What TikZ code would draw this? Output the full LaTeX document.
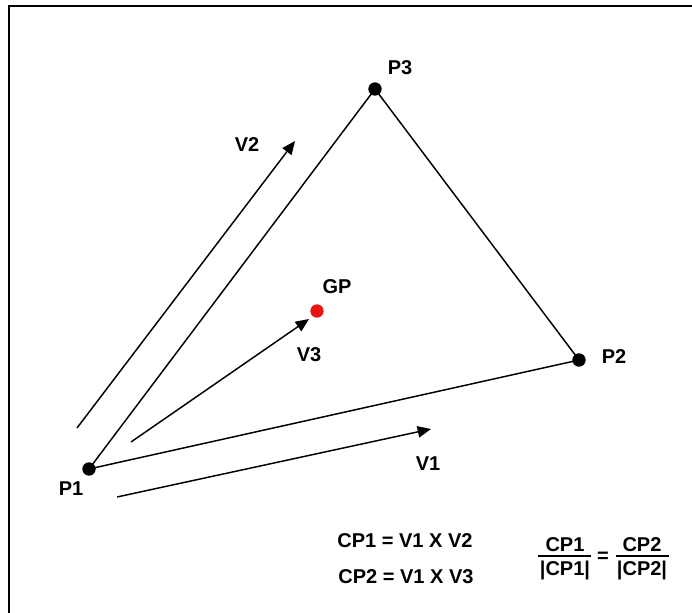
\documentclass[tikz,border=0pt]{standalone}
\usepackage{fontspec}
\setmainfont{Liberation Sans}
\usepackage{tikz}
\usetikzlibrary{arrows.meta, positioning}
\definecolor{gpred}{RGB}{235,20,20}

\begin{document}
\begin{tikzpicture}[
    x=0.75pt, y=-0.75pt,
    every node/.style={align=center, inner sep=0pt, font=\fontsize{15}{17}\selectfont\bfseries},
    vertex/.style={circle, fill=black, inner sep=0pt, minimum size=10pt},
    gpdot/.style={circle, fill=gpred, inner sep=0pt, minimum size=10pt},
    edge/.style={line width=1.1pt},
    vec/.style={-{Triangle[length=10pt, width=8.5pt]}, line width=1.1pt},
    fracbar/.style={line width=1.1pt}
]
\useasboundingbox (0,0) rectangle (692,613);

% Frame
\draw[line width=2pt] (9,625) -- (9,6) -- (705,6);

% Triangle corners and gravity point
\node[vertex] (p1) at (89,469) {};
\node[vertex] (p2) at (579,360) {};
\node[vertex] (p3) at (375,89) {};
\node[gpdot] (gp) at (317,311) {};

% Corner labels
\node (p1lbl) at (71,489) {P1};
\node (p2lbl) at (614,357) {P2};
\node (p3lbl) at (400,68) {P3};
\node (gplbl) at (337,287) {GP};

% Triangle edges
\draw[edge] (p1.center) -- (p2.center);
\draw[edge] (p2.center) -- (p3.center);
\draw[edge] (p3.center) -- (p1.center);

% Vectors
\coordinate (v1a) at (117,497);
\coordinate (v1b) at (431,429);
\coordinate (v2a) at (77,428);
\coordinate (v2b) at (295,141);
\coordinate (v3a) at (131,442);
\coordinate (v3b) at (309,319);
\draw[vec] (v1a) -- (v1b);
\draw[vec] (v2a) -- (v2b);
\draw[vec] (v3a) -- (v3b);
\node (v1lbl) at (428,464) {V1};
\node (v2lbl) at (247,145) {V2};
\node (v3lbl) at (309,355) {V3};

% Cross products
\node (cp1) at (405,541) {CP1 = V1 X V2};
\node (cp2) at (406,577) {CP2 = V1 X V3};

% Normalised ratio
\node (numl) at (565,545) {CP1};
\node (denl) at (565,570) {|CP1|};
\coordinate (barla) at (538,556);
\coordinate (barlb) at (591,556);
\draw[fracbar] (barla) -- (barlb);
\node (eq) at (603,557) {=};
\node (numr) at (642,545) {CP2};
\node (denr) at (642,570) {|CP2|};
\coordinate (barra) at (616,556);
\coordinate (barrb) at (669,556);
\draw[fracbar] (barra) -- (barrb);

\end{tikzpicture}
\end{document}
